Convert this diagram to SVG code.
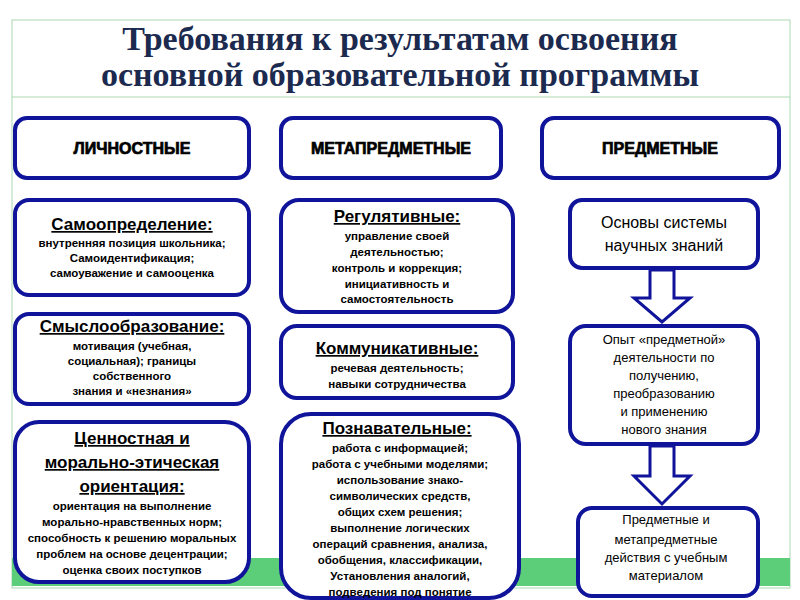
<svg xmlns="http://www.w3.org/2000/svg" width="800" height="600" viewBox="0 0 800 600">
<style>
.b{fill:#fff;stroke:#10149a;stroke-width:4}
.t{font-family:"Liberation Sans",Arial,sans-serif;text-anchor:middle;fill:#000}
.h{font-size:16px;font-weight:bold;stroke:#000;stroke-width:0.7}
.s{font-size:11.5px;font-weight:bold}
.u{font-size:17px;font-weight:bold;text-decoration:underline}
.p{font-size:13px}
.ar{fill:#fff;stroke:#10149a;stroke-width:3}
.ti{font-family:"Liberation Serif","Times New Roman",serif;font-size:34px;font-weight:bold;fill:#1b2a4e;text-anchor:middle}
</style>
<rect width="800" height="600" fill="#fff"/>
<rect x="12" y="20" width="778" height="568" fill="#fff" stroke="#a8d8b0" stroke-width="1"/>
<line x1="12" y1="97" x2="790" y2="97" stroke="#a8d8b0"/>
<rect x="12" y="558" width="778" height="28" fill="#5ccd78"/>
<text class="ti" x="400" y="50">Требования к результатам освоения</text>
<text class="ti" x="400" y="86">основной образовательной  программы</text>
<g id="h1"><rect class="b" x="15" y="118" width="234" height="60" rx="12"/><text class="t h" x="132" y="154">ЛИЧНОСТНЫЕ</text></g>
<g id="h2"><rect class="b" x="281" y="118" width="220" height="60" rx="12"/><text class="t h" x="391" y="154">МЕТАПРЕДМЕТНЫЕ</text></g>
<g id="h3"><rect class="b" x="542" y="118" width="237" height="60" rx="12"/><text class="t h" x="660" y="154">ПРЕДМЕТНЫЕ</text></g>
<g id="l1"><rect class="b" x="15" y="200" width="234" height="95" rx="14"/>
<text class="t u" x="132" y="230">Самоопределение:</text>
<text class="t s" x="132" y="247">внутренняя позиция школьника;</text>
<text class="t s" x="132" y="262">Самоидентификация;</text>
<text class="t s" x="132" y="277">самоуважение и самооценка</text></g>
<g id="l2"><rect class="b" x="15" y="314" width="234" height="90" rx="14"/>
<text class="t u" x="132" y="332">Смыслообразование:</text>
<text class="t s" x="132" y="350">мотивация (учебная,</text>
<text class="t s" x="132" y="365">социальная); границы</text>
<text class="t s" x="132" y="380">собственного</text>
<text class="t s" x="132" y="395">знания и «незнания»</text></g>
<g id="l3"><rect class="b" x="15" y="422" width="234" height="160" rx="24"/>
<text class="t u" x="132" y="444">Ценностная и </text>
<text class="t u" x="132" y="468">морально-этическая</text>
<text class="t u" x="132" y="492">ориентация:</text>
<text class="t s" x="132" y="510">ориентация на выполнение</text>
<text class="t s" x="132" y="526">морально-нравственных норм;</text>
<text class="t s" x="132" y="542">способность к решению моральных</text>
<text class="t s" x="132" y="558">проблем на основе децентрации;</text>
<text class="t s" x="132" y="574">оценка своих поступков</text></g>
<g id="m1"><rect class="b" x="281" y="200" width="232" height="112" rx="18"/>
<text class="t u" x="397" y="222">Регулятивные:</text>
<text class="t s" x="397" y="240">управление своей</text>
<text class="t s" x="397" y="256">деятельностью;</text>
<text class="t s" x="397" y="272">контроль и коррекция;</text>
<text class="t s" x="397" y="288">инициативность и</text>
<text class="t s" x="397" y="303">самостоятельность</text></g>
<g id="m2"><rect class="b" x="281" y="326" width="232" height="72" rx="16"/>
<text class="t u" x="397" y="354">Коммуникативные:</text>
<text class="t s" x="397" y="372">речевая деятельность;</text>
<text class="t s" x="397" y="388">навыки сотрудничества</text></g>
<g id="m3"><rect class="b" x="281" y="414" width="238" height="184" rx="30"/>
<text class="t u" x="397" y="434">Познавательные:</text>
<text class="t s" x="400" y="452">работа с информацией;</text>
<text class="t s" x="400" y="468">работа с учебными моделями;</text>
<text class="t s" x="400" y="484">использование знако-</text>
<text class="t s" x="400" y="500">символических средств,</text>
<text class="t s" x="400" y="516">общих схем решения;</text>
<text class="t s" x="400" y="532">выполнение логических</text>
<text class="t s" x="400" y="548">операций сравнения,  анализа,</text>
<text class="t s" x="400" y="564">обобщения, классификации,</text>
<text class="t s" x="400" y="580">Установления аналогий,</text>
<text class="t s" x="400" y="596">подведения под понятие</text></g>
<g id="p1"><rect class="b" x="570" y="200" width="188" height="68" rx="12"/>
<text class="t" x="664" y="228" style="font-size:16px">Основы системы</text>
<text class="t" x="664" y="251" style="font-size:16px">научных знаний</text></g>
<g id="p2"><rect class="b" x="570" y="326" width="188" height="118" rx="16"/>
<text class="t p" x="664" y="344">Опыт «предметной»</text>
<text class="t p" x="664" y="362">деятельности по</text>
<text class="t p" x="664" y="380">получению,</text>
<text class="t p" x="664" y="398">преобразованию</text>
<text class="t p" x="664" y="416">и применению</text>
<text class="t p" x="664" y="434">нового знания</text></g>
<g id="p3"><rect class="b" x="578" y="508" width="180" height="88" rx="14"/>
<text class="t p" x="666" y="524">Предметные и</text>
<text class="t p" x="666" y="544">метапредметные</text>
<text class="t p" x="666" y="562">действия с учебным</text>
<text class="t p" x="666" y="580">материалом</text></g>
<g id="connectors">
<path class="ar" d="M650,270 H674 V298 H690 L662,322 L634,298 H650 Z"/>
<path class="ar" d="M650,446 H674 V476 H690 L662,504 L634,476 H650 Z"/>
</g>
</svg>
